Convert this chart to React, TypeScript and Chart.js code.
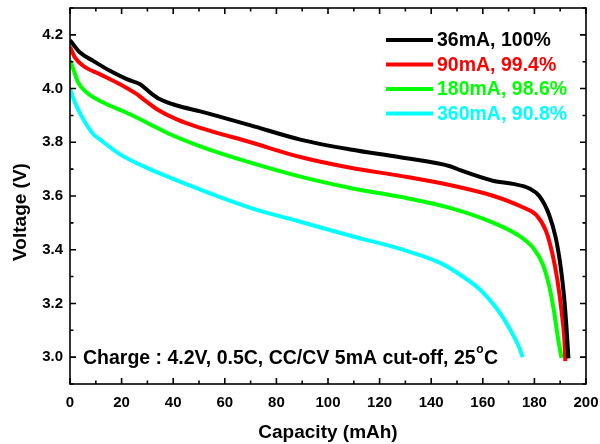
import React, { useEffect, useRef } from "react";
import Chart from "chart.js/auto";

// ---------- data ----------
const seriesLabels = ["36mA, 100%", "90mA, 99.4%", "180mA, 98.6%", "360mA, 90.8%"];
const seriesColors = ["#000000", "#ff0000", "#00ff00", "#00ffff"];

const cap36 = [0, 0.4, 3.9, 9, 15.5, 22, 27.2, 31.1, 34.9, 41.4, 50.5, 60, 70, 89.3, 108.7, 128, 147.6, 151.5, 164.2, 171.7, 178.1, 181.9, 185.7, 188.3, 190.2, 191.5, 192.4, 193.2];
const volt36 = [4.18, 4.175, 4.134, 4.103, 4.066, 4.035, 4.016, 3.985, 3.96, 3.937, 3.915, 3.89, 3.863, 3.81, 3.773, 3.744, 3.71, 3.695, 3.656, 3.645, 3.628, 3.6, 3.53, 3.443, 3.335, 3.225, 3.115, 2.995];

const cap90 = [0, 1.9, 5.2, 11.7, 19.4, 25.9, 28.5, 33.7, 41.4, 50.5, 70, 89.3, 108.7, 128, 147.6, 164.2, 175.5, 180.7, 184.5, 187, 188.9, 190.6, 191.6, 192];
const volt90 = [4.155, 4.116, 4.084, 4.053, 4.016, 3.979, 3.96, 3.923, 3.885, 3.854, 3.8, 3.745, 3.705, 3.675, 3.64, 3.6, 3.558, 3.53, 3.47, 3.384, 3.288, 3.165, 3.067, 2.985];

const cap180 = [0, 1.3, 3.2, 6.5, 12.9, 22, 29.8, 38.8, 50.5, 70, 89.3, 108.7, 128, 147.6, 164.2, 174.4, 179.5, 183.2, 185.8, 187.7, 189, 190.5];
const volt180 = [4.105, 4.072, 4.022, 3.985, 3.948, 3.91, 3.873, 3.83, 3.785, 3.724, 3.672, 3.63, 3.597, 3.555, 3.5, 3.45, 3.407, 3.347, 3.262, 3.165, 3.08, 2.997];

const cap360 = [0, 1.9, 5.2, 9.1, 11.7, 19.4, 31, 50.5, 70, 89.3, 108.7, 128, 143.7, 151.5, 159.1, 165.5, 170.5, 173.7, 175.5];
const volt360 = [4.0, 3.948, 3.885, 3.83, 3.81, 3.755, 3.7, 3.624, 3.556, 3.504, 3.452, 3.403, 3.35, 3.305, 3.25, 3.18, 3.105, 3.045, 3.0];

const xMajorTicks = [0, 20, 40, 60, 80, 100, 120, 140, 160, 180, 200];
const yMajorTicks = [3.0, 3.2, 3.4, 3.6, 3.8, 4.0, 4.2];
const xRange = [0, 200];
const yRange = [2.9, 4.3];

const xTitle = "Capacity (mAh)";
const yTitle = "Voltage (V)";
const noteMain = "Charge : 4.2V, 0.5C, CC/CV 5mA cut-off, 25";
const noteSup = "o";
const noteEnd = "C";

const FONT = "'Liberation Sans', Arial, sans-serif";

const isMajorY = (v: number) => yMajorTicks.some((m) => Math.abs(m - v) < 1e-6);
const isMajorX = (v: number) => xMajorTicks.some((m) => Math.abs(m - v) < 1e-6);

const boxPlugin = {
  id: "boxTicks",
  afterDraw(chart: any) {
    const { ctx, chartArea: a, scales } = chart;
    const xs = scales.x;
    const ys = scales.y;
    ctx.save();
    ctx.strokeStyle = "#000";
    ctx.lineWidth = 1.6;
    ctx.strokeRect(a.left, a.top, a.right - a.left, a.bottom - a.top);
    ctx.beginPath();
    xs.ticks.forEach((t: any) => {
      const px = xs.getPixelForValue(t.value);
      const len = isMajorX(t.value) ? 6 : 3.5;
      ctx.moveTo(px, a.bottom);
      ctx.lineTo(px, a.bottom - len);
      ctx.moveTo(px, a.top);
      ctx.lineTo(px, a.top + len);
    });
    ys.ticks.forEach((t: any) => {
      const py = ys.getPixelForValue(t.value);
      const len = isMajorY(t.value) ? 6 : 3.5;
      ctx.moveTo(a.left, py);
      ctx.lineTo(a.left + len, py);
      ctx.moveTo(a.right, py);
      ctx.lineTo(a.right - len, py);
    });
    ctx.stroke();

    // y title
    ctx.save();
    ctx.translate(20.5, (a.top + a.bottom) / 2 + 16);
    ctx.rotate(-Math.PI / 2);
    ctx.fillStyle = "#000";
    ctx.font = `bold 19px ${FONT}`;
    ctx.textAlign = "center";
    ctx.textBaseline = "middle";
    ctx.fillText(yTitle, 0, 0);
    ctx.restore();

    // legend
    const legX = a.left + 316;
    const legY0 = a.top + 32;
    const legDy = 24.5;
    chart.data.datasets.forEach((ds: any, i: number) => {
      const y = legY0 + i * legDy;
      ctx.strokeStyle = ds.borderColor;
      ctx.lineWidth = 4;
      ctx.beginPath();
      ctx.moveTo(legX, y);
      ctx.lineTo(legX + 47, y);
      ctx.stroke();
      ctx.fillStyle = ds.borderColor;
      ctx.font = `bold 19.5px ${FONT}`;
      ctx.textBaseline = "middle";
      ctx.textAlign = "left";
      ctx.fillText(ds.label, legX + 51, y + 1);
    });

    // note
    const nx = a.left + 13;
    const ny = ys.getPixelForValue(3.0) + 1;
    ctx.fillStyle = "#000";
    ctx.font = `bold 19.5px ${FONT}`;
    ctx.textBaseline = "middle";
    ctx.textAlign = "left";
    ctx.fillText(noteMain, nx, ny);
    const w1 = ctx.measureText(noteMain).width;
    ctx.font = `bold 12px ${FONT}`;
    ctx.fillText(noteSup, nx + w1 + 0.5, ny - 8);
    const w2 = ctx.measureText(noteSup).width;
    ctx.font = `bold 19.5px ${FONT}`;
    ctx.fillText(noteEnd, nx + w1 + w2 + 1, ny);
    ctx.restore();
  },
};

export default function App() {
  const ref = useRef<HTMLCanvasElement | null>(null);
  useEffect(() => {
    if (!ref.current) return;
    Chart.defaults.font.family = FONT;
    Chart.defaults.color = "#000";
    const mk = (caps: number[], volts: number[]) => caps.map((c, i) => ({ x: c, y: volts[i] }));
    const all = [mk(cap36, volt36), mk(cap90, volt90), mk(cap180, volt180), mk(cap360, volt360)];
    const chart = new Chart(ref.current, {
      type: "line",
      data: {
        datasets: all.map((d, i) => ({
          label: seriesLabels[i],
          data: d,
          borderColor: seriesColors[i],
          backgroundColor: seriesColors[i],
          borderWidth: 4,
          pointRadius: 0,
          cubicInterpolationMode: "monotone" as const,
          fill: false,
        })),
      },
      options: {
        animation: false,
        responsive: true,
        maintainAspectRatio: false,
        layout: { padding: { top: 8, right: 14, left: 0, bottom: 0 } },
        plugins: { legend: { display: false }, tooltip: { enabled: false } },
        scales: {
          x: {
            type: "linear",
            min: xRange[0],
            max: xRange[1],
            grid: { display: false, drawTicks: false },
            border: { display: false },
            ticks: {
              stepSize: 10,
              autoSkip: false,
              maxRotation: 0,
              padding: 10,
              font: { size: 15, weight: "bold" },
              callback: (v: any) => (isMajorX(Number(v)) ? String(Math.round(Number(v))) : ""),
            },
            title: { display: true, text: xTitle, font: { size: 19, weight: "bold" }, padding: { top: 0, bottom: 0 } },
            afterFit: (s: any) => {
              s.height = 60;
              s.paddingLeft = 0;
              s.paddingRight = 0;
            },
          },
          y: {
            type: "linear",
            min: yRange[0],
            max: yRange[1],
            grid: { display: false, drawTicks: false },
            border: { display: false },
            ticks: {
              stepSize: 0.1,
              autoSkip: false,
              padding: 7,
              font: { size: 15, weight: "bold" },
              callback: (v: any) => (isMajorY(Number(v)) ? Number(v).toFixed(1) : ""),
            },
            title: { display: false },
            afterFit: (s: any) => {
              s.width = 70;
              s.paddingTop = 0;
              s.paddingBottom = 0;
            },
          },
        },
      },
      plugins: [boxPlugin],
    });
    return () => chart.destroy();
  }, []);
  return (
    <div style={{ position: "absolute", left: 0, top: 0, width: 600, height: 444, background: "#fff" }}>
      <canvas ref={ref} />
    </div>
  );
}
